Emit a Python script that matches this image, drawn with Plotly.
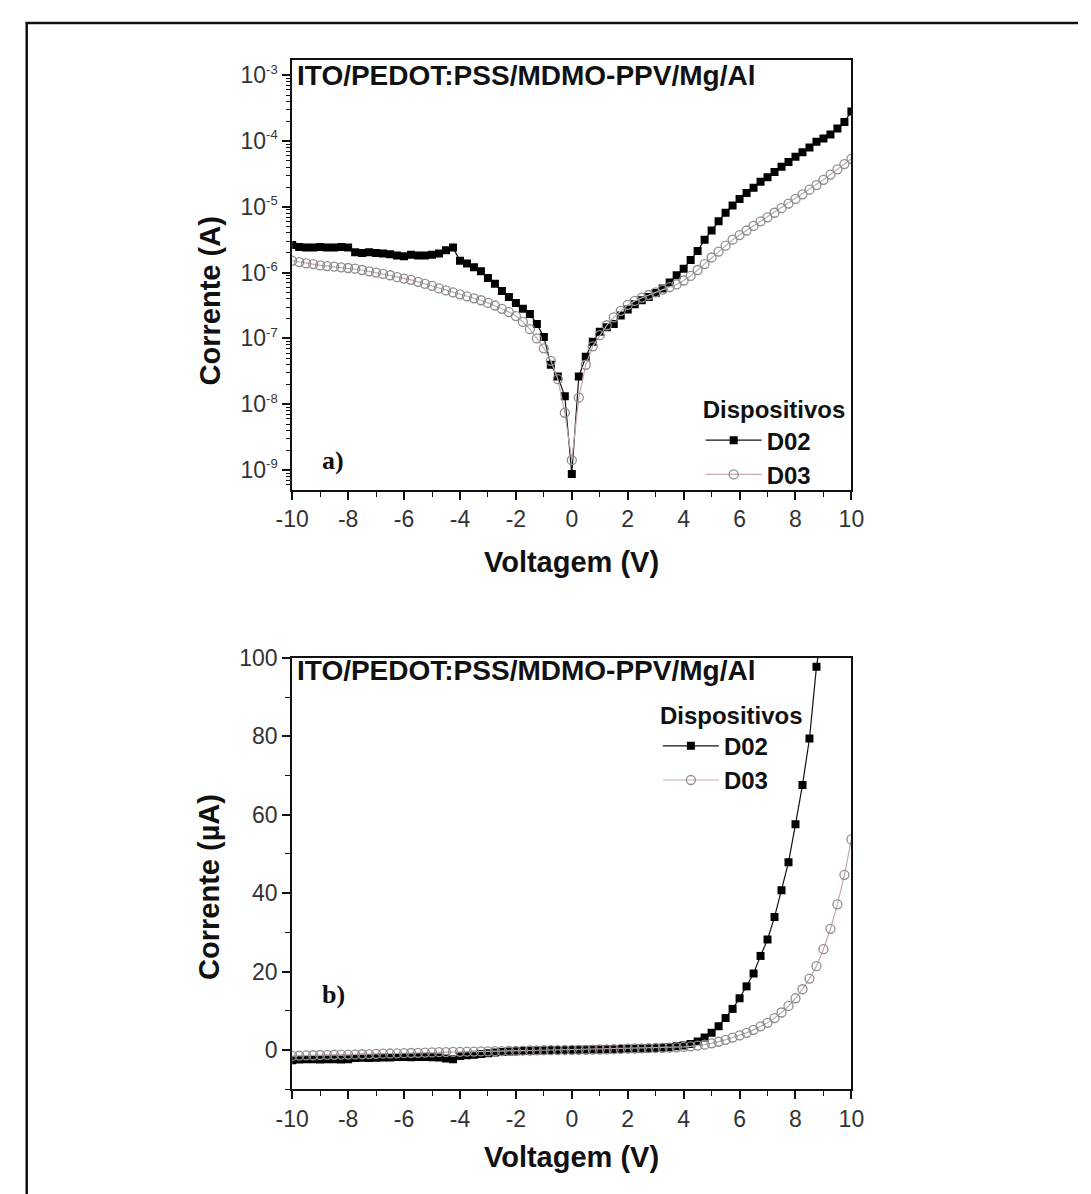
import plotly.graph_objects as go

# Voltage sweep (V)
voltage = [
    -10.0, -9.75, -9.5, -9.25, -9.0, -8.75, -8.5, -8.25, -8.0, -7.75,
    -7.5, -7.25, -7.0, -6.75, -6.5, -6.25, -6.0, -5.75, -5.5, -5.25,
    -5.0, -4.75, -4.5, -4.25, -4.0, -3.75, -3.5, -3.25, -3.0, -2.75,
    -2.5, -2.25, -2.0, -1.75, -1.5, -1.25, -1.0, -0.75, -0.5, -0.25,
    0.0, 0.25, 0.5, 0.75, 1.0, 1.25, 1.5, 1.75, 2.0, 2.25,
    2.5, 2.75, 3.0, 3.25, 3.5, 3.75, 4.0, 4.25, 4.5, 4.75,
    5.0, 5.25, 5.5, 5.75, 6.0, 6.25, 6.5, 6.75, 7.0, 7.25,
    7.5, 7.75, 8.0, 8.25, 8.5, 8.75, 9.0, 9.25, 9.5, 9.75, 10.0,
]

# log10 of |current| in amperes, device D02
d02_log10_amps = [
    -5.58, -5.61, -5.62, -5.62, -5.61, -5.62, -5.62, -5.61, -5.62, -5.69,
    -5.70, -5.69, -5.70, -5.71, -5.72, -5.74, -5.75, -5.73, -5.74, -5.74,
    -5.73, -5.71, -5.66, -5.62, -5.82, -5.86, -5.92, -5.98, -6.08, -6.17,
    -6.28, -6.37, -6.46, -6.55, -6.63, -6.78, -6.98, -7.40, -7.58, -7.88,
    -9.06, -7.58, -7.28, -7.05, -6.90, -6.83, -6.78, -6.65, -6.56, -6.48,
    -6.42, -6.37, -6.31, -6.24, -6.15, -6.04, -5.94, -5.81, -5.67, -5.50,
    -5.36, -5.22, -5.09, -4.98, -4.88, -4.79, -4.71, -4.62, -4.55, -4.47,
    -4.39, -4.32, -4.24, -4.17, -4.10, -4.01, -3.96, -3.90, -3.81, -3.71, -3.55,
]

# log10 of |current| in amperes, device D03
d03_log10_amps = [
    -5.82, -5.84, -5.86, -5.87, -5.89, -5.90, -5.91, -5.92, -5.93, -5.94,
    -5.96, -5.98, -6.00, -6.02, -6.04, -6.07, -6.09, -6.11, -6.14, -6.17,
    -6.20, -6.24, -6.27, -6.30, -6.33, -6.36, -6.39, -6.42, -6.46, -6.50,
    -6.55, -6.60, -6.66, -6.75, -6.86, -7.00, -7.15, -7.34, -7.62, -8.13,
    -8.85, -7.90, -7.40, -7.12, -6.95, -6.80, -6.68, -6.58, -6.49, -6.43,
    -6.38, -6.34, -6.30, -6.26, -6.22, -6.18, -6.12, -6.05, -5.96, -5.87,
    -5.77, -5.68, -5.59, -5.50, -5.43, -5.36, -5.29, -5.22, -5.16, -5.09,
    -5.02, -4.95, -4.88, -4.81, -4.74, -4.67, -4.59, -4.51, -4.43, -4.35, -4.27,
]

device_names = ["D02", "D03"]
x_tick_values = [-10, -8, -6, -4, -2, 0, 2, 4, 6, 8, 10]
x_tick_labels = ["-10", "-8", "-6", "-4", "-2", "0", "2", "4", "6", "8", "10"]
log_tick_exponents = [-9, -8, -7, -6, -5, -4, -3]
y_lin_tick_values = [0, 20, 40, 60, 80, 100]
y_lin_tick_labels = ["0", "20", "40", "60", "80", "100"]
stack_label = "ITO/PEDOT:PSS/MDMO-PPV/Mg/Al"
legend_title = "Dispositivos"


def magnitude_amps(logs):
    return [10 ** v for v in logs]


def signed_microamps(volts, logs):
    out = []
    for v, lg in zip(volts, logs):
        sign = -1.0 if v < 0 else 1.0
        out.append(sign * (10 ** lg) * 1e6)
    return out


W, H = 1091, 1194


def fx(px):
    return px / W


def fy(py):
    return 1 - py / H


SANS = "Liberation Sans, Arial, sans-serif"
SERIF = "Liberation Serif, Times New Roman, serif"

d02_style = dict(
    mode="lines+markers",
    line=dict(color="#111111", width=1.2),
    marker=dict(symbol="square", size=8, color="#000000"),
)
d03_style = dict(
    mode="lines+markers",
    line=dict(color="#c4a9ae", width=1.2),
    marker=dict(symbol="circle-open", size=9, color="#8d8d8d", line=dict(width=1.3)),
)

fig = go.Figure()

# (a) semi-log plot
fig.add_trace(go.Scatter(x=voltage, y=magnitude_amps(d02_log10_amps), name=device_names[0],
                         xaxis="x", yaxis="y", legend="legend", **d02_style))
fig.add_trace(go.Scatter(x=voltage, y=magnitude_amps(d03_log10_amps), name=device_names[1],
                         xaxis="x", yaxis="y", legend="legend", **d03_style))

# (b) linear plot in microamperes
fig.add_trace(go.Scatter(x=voltage, y=signed_microamps(voltage, d02_log10_amps), name=device_names[0],
                         xaxis="x2", yaxis="y2", legend="legend2", **d02_style))
fig.add_trace(go.Scatter(x=voltage, y=signed_microamps(voltage, d03_log10_amps), name=device_names[1],
                         xaxis="x2", yaxis="y2", legend="legend2", **d03_style))

axis_common = dict(
    showline=True, linecolor="#111111", linewidth=2, mirror=True,
    ticks="outside", ticklen=8, tickwidth=1.6, tickcolor="#111111",
    tickfont=dict(family=SANS, size=23, color="#333333"),
    showgrid=False, zeroline=False,
)

odd_volts = [-9, -7, -5, -3, -1, 1, 3, 5, 7, 9]
x_axis_style = dict(
    axis_common, range=[-10, 10], tickmode="array",
    tickvals=x_tick_values, ticktext=x_tick_labels,
    minor=dict(tickmode="array", tickvals=odd_volts, ticks="outside",
               ticklen=5, tickwidth=1.4, tickcolor="#111111"),
)

# decade labels with a small raised exponent
log_tick_values = [10.0 ** e for e in log_tick_exponents]
log_tick_labels = ["10<sup><span style='font-size:13px'>%d</span></sup>" % e for e in log_tick_exponents]

legend_font = dict(family=SANS, size=24, color="#111111", weight="bold")

fig.update_layout(
    width=W, height=H,
    margin=dict(l=0, r=0, t=0, b=0),
    paper_bgcolor="white", plot_bgcolor="white",
    showlegend=True,
    xaxis=dict(x_axis_style, domain=[fx(283), fx(858)], anchor="y"),
    yaxis=dict(
        axis_common, type="log", range=[-9.30, -2.776],
        tickmode="array", tickvals=log_tick_values, ticktext=log_tick_labels,
        domain=[fy(482), fy(48)], anchor="x",
        minor=dict(ticks="outside", ticklen=4, tickwidth=1.1, dtick="D1", tickcolor="#111111"),
    ),
    xaxis2=dict(x_axis_style, domain=[fx(283), fx(858)], anchor="y2"),
    yaxis2=dict(
        axis_common, range=[-10, 100], tickmode="array",
        tickvals=y_lin_tick_values, ticktext=y_lin_tick_labels,
        domain=[fy(1088), fy(652)], anchor="x2",
        minor=dict(tickmode="array", tickvals=[-10, 10, 30, 50, 70, 90], ticks="outside",
                   ticklen=5, tickwidth=1.4, tickcolor="#111111"),
    ),
    legend=dict(
        x=fx(703), y=fy(378), xanchor="left", yanchor="top",
        bgcolor="rgba(0,0,0,0)", borderwidth=0,
        title=dict(text=legend_title, font=legend_font),
        font=legend_font, itemwidth=56, tracegroupgap=0,
    ),
    legend2=dict(
        x=fx(659), y=fy(687), xanchor="left", yanchor="top",
        bgcolor="rgba(0,0,0,0)", borderwidth=0,
        title=dict(text=legend_title, font=legend_font),
        font=legend_font, itemwidth=56, tracegroupgap=0,
    ),
)

annotations = [
    # device stack labels
    dict(text="<b>" + stack_label + "</b>", x=fx(286), y=fy(63), xanchor="left", yanchor="middle",
         font=dict(family=SANS, size=28, color="#111111")),
    dict(text="<b>" + stack_label + "</b>", x=fx(286), y=fy(665), xanchor="left", yanchor="middle",
         font=dict(family=SANS, size=28, color="#111111")),
    # panel tags
    dict(text="<b>a)</b>", x=fx(312), y=fy(452), xanchor="left", yanchor="middle",
         font=dict(family=SERIF, size=26, color="#111111")),
    dict(text="<b>b)</b>", x=fx(312), y=fy(992), xanchor="left", yanchor="middle",
         font=dict(family=SERIF, size=26, color="#111111")),
    # axis titles
    dict(text="<b>Voltagem (V)</b>", x=fx(570), y=fy(555), xanchor="center", yanchor="middle",
         font=dict(family=SANS, size=29, color="#111111")),
    dict(text="<b>Voltagem (V)</b>", x=fx(570), y=fy(1157), xanchor="center", yanchor="middle",
         font=dict(family=SANS, size=29, color="#111111")),
    dict(text="<b>Corrente (A)</b>", x=fx(198), y=fy(291), xanchor="center", yanchor="middle",
         textangle=-90, font=dict(family=SANS, size=29, color="#111111")),
    dict(text="<b>Corrente (µA)</b>", x=fx(198), y=fy(884), xanchor="center", yanchor="middle",
         textangle=-90, font=dict(family=SANS, size=29, color="#111111")),
]
for a in annotations:
    a.update(xref="paper", yref="paper", showarrow=False)
fig.update_layout(annotations=annotations)

# outer frame: top and left edges of the surrounding box
frame = dict(color="#111111", width=2.5)
fig.add_shape(type="line", xref="paper", yref="paper",
              x0=fx(9), x1=1, y0=fy(10), y1=fy(10), line=frame, layer="below")
fig.add_shape(type="line", xref="paper", yref="paper",
              x0=fx(10), x1=fx(10), y0=0, y1=fy(9), line=frame, layer="below")

fig.write_html("out.html")
